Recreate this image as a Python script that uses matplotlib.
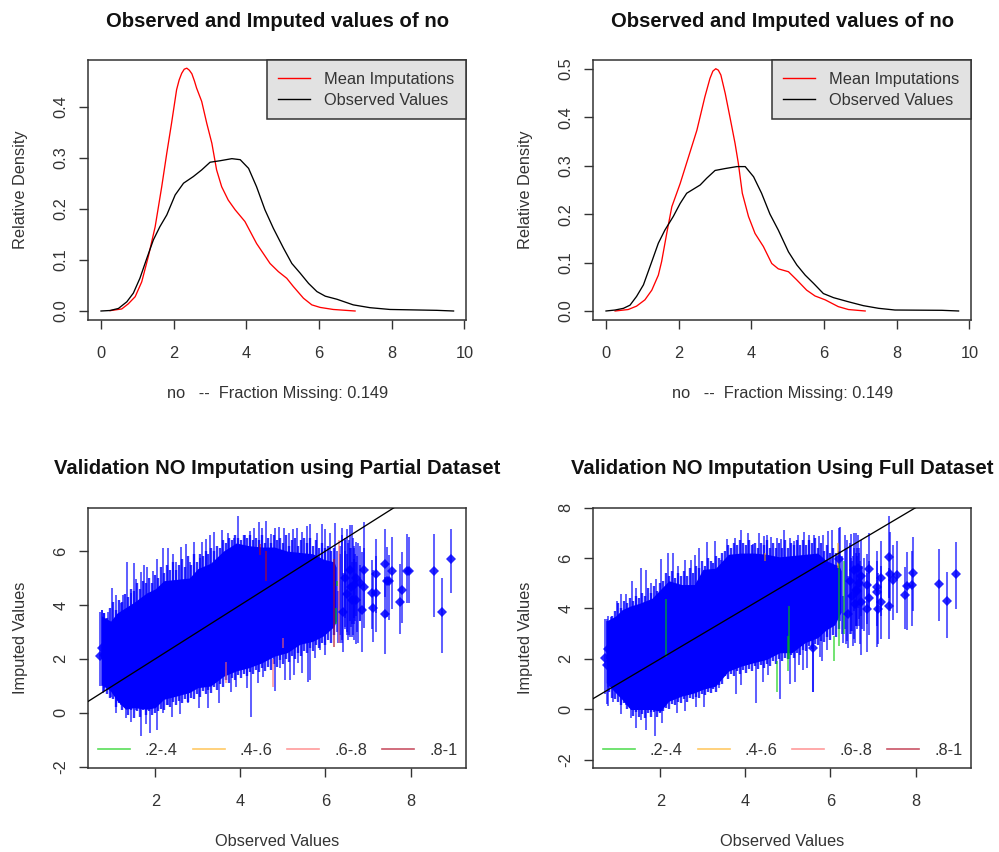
import matplotlib
matplotlib.use("Agg")
import matplotlib.pyplot as plt
from matplotlib.lines import Line2D

plt.rcParams['font.family'] = ['Liberation Sans', 'DejaVu Sans']
plt.rcParams['axes.unicode_minus'] = False

# ---------- density panels ----------
tl_red_x = [.25,.57,.75,.94,1.12,1.30,1.49,1.67,1.81,1.94,2.08,2.15,2.22,2.29,2.36,2.43,2.50,2.57,2.63,2.77,2.91,3.05,3.18,3.32,3.50,3.69,3.96,4.28,4.65,4.88,5.11,5.29,5.57,5.80,6.03,6.39,6.99]
tl_red_y = [.0007,.004,.014,.028,.057,.106,.165,.243,.309,.367,.433,.452,.465,.473,.475,.471,.464,.45,.436,.41,.367,.328,.276,.243,.217,.198,.175,.132,.093,.077,.064,.048,.025,.012,.007,.003,0]
tl_blk_x = [0,.25,.48,.71,.89,1.07,1.26,1.44,1.62,1.81,2.04,2.27,2.54,2.77,3.0,3.28,3.6,3.83,4.06,4.28,4.51,4.74,5.02,5.25,5.48,5.71,5.94,6.17,6.49,6.94,7.40,7.95,9.24,9.70]
tl_blk_y = [0,.001,.005,.018,.035,.064,.103,.139,.165,.188,.227,.25,.263,.276,.291,.294,.298,.296,.279,.243,.198,.162,.123,.093,.074,.054,.038,.029,.023,.012,.0065,.003,.0013,0]
tr_red_x = [.25,.61,.84,1.07,1.26,1.44,1.53,1.67,1.81,2.04,2.27,2.50,2.72,2.86,2.94,3.02,3.09,3.16,3.28,3.41,3.55,3.64,3.75,3.92,4.10,4.33,4.56,4.74,5.02,5.25,5.52,5.75,6.03,6.39,6.67,7.13]
tr_red_y = [0,.003,.010,.023,.043,.074,.102,.16,.215,.263,.318,.373,.442,.48,.495,.50,.497,.487,.449,.40,.346,.305,.243,.195,.16,.133,.098,.087,.081,.064,.043,.031,.023,.009,.003,0]
tr_blk_x = [0,.25,.48,.66,.84,1.03,1.26,1.44,1.62,1.85,2.04,2.22,2.59,2.77,3.0,3.28,3.6,3.83,4.06,4.28,4.51,4.74,5.02,5.25,5.48,5.71,5.98,6.26,6.67,7.08,7.5,7.95,9.24,9.70]
tr_blk_y = [0,.002,.0055,.012,.03,.054,.102,.14,.167,.195,.222,.243,.26,.274,.29,.294,.298,.298,.277,.243,.2,.167,.122,.095,.074,.057,.036,.0275,.019,.011,.0055,.002,.0014,0]

# ---------- shared positions of the dense fringe of intervals ----------
fr_x = [.80,.87,.94,1.01,1.08,1.15,1.22,1.29,1.36,1.43,
        1.50,1.57,1.64,1.71,1.78,1.85,1.92,1.99,2.06,2.13,
        2.20,2.27,2.34,2.41,2.48,2.55,2.62,2.69,2.76,2.83,
        2.90,2.97,3.04,3.11,3.18,3.25,3.32,3.39,3.46,3.53,
        3.60,3.67,3.74,3.81,3.88,3.95,4.02,4.09,4.16,4.23,
        4.30,4.37,4.44,4.51,4.58,4.65,4.72,4.79,4.86,4.93,
        5.00,5.07,5.14,5.21,5.28,5.35,5.42,5.49,5.56,5.63,
        5.70,5.77,5.84,5.91,5.98,6.05,6.12,6.19]

# ---------- partial dataset panel ----------
p_core_x  = [.73,.95,1.1,1.3,1.5,1.8,2.0,2.2,2.5,2.8,3.0,3.3,3.6,3.9,4.2,4.5,4.8,5.1,5.4,5.7,5.95,6.2,6.25]
p_core_hi = [3.6,3.4,3.7,3.9,4.1,4.45,4.6,4.9,4.95,5.0,5.35,5.55,6.0,6.3,6.2,6.15,6.15,6.0,5.95,5.9,5.7,5.6,5.4]
p_core_lo = [1.05,.8,.45,.13,.19,.13,.19,.5,.62,.75,.93,.99,1.35,1.55,1.67,1.85,2.1,2.23,2.54,2.65,2.85,3.2,3.4]
p_fr_hi = [3.7,3.5,3.9,4.1,3.8,4.2,4.1,4.4,4.3,4.6,
           4.5,4.8,4.6,4.9,4.8,5.0,4.8,5.1,5.0,5.4,
           5.2,5.5,5.3,5.6,5.3,5.5,5.7,5.4,5.8,5.5,
           5.9,5.6,5.9,5.8,6.0,5.9,6.1,6.0,6.2,6.1,
           6.4,6.3,6.5,6.4,6.6,6.5,6.4,6.6,6.5,6.6,
           6.4,6.5,6.4,6.6,6.3,6.5,6.3,6.6,6.4,6.5,
           6.3,6.6,6.2,6.4,6.5,6.2,6.4,6.5,6.3,6.5,
           6.2,6.4,6.1,6.3,6.1,6.2,6.0,6.1]
p_fr_lo = [.8,.7,.55,.5,.2,.35,.1,.2,-.1,.1,
           -.2,.05,-.15,.1,-.1,.05,-.1,.0,.05,.15,
           .1,.3,.2,.4,.3,.45,.35,.5,.4,.55,
           .5,.7,.6,.8,.7,.85,.75,.95,.85,1.05,
           .95,1.2,1.1,1.3,1.2,1.4,1.3,1.45,1.35,1.5,
           1.45,1.6,1.5,1.65,1.55,1.7,1.6,1.8,1.7,1.95,
           1.8,2.0,1.9,2.1,2.0,2.2,2.1,2.3,2.2,2.4,
           2.3,2.5,2.4,2.6,2.5,2.7,2.6,2.9]
p_top_x  = [.756,.889,.983,1.077,1.186,1.249,1.343,1.437,1.50,1.554,1.672,1.735,1.813,1.938,2.04,2.18,2.30,2.42,2.49,2.60,2.72,2.81,2.91,3.04,3.10,3.18,3.28,3.38,3.57,3.72,3.85,3.94,4.10,4.22,4.33,4.43,4.51,4.61,4.73,4.82,4.91,5.03,5.15,5.23,5.34,5.44,5.56,5.63,5.79,5.91,5.99,6.10,6.22]
p_top_hi = [3.81,3.75,4.64,4.37,4.06,4.37,5.58,4.43,5.54,4.96,5.21,5.48,5.42,5.26,5.69,6.10,6.12,5.88,5.61,6.16,6.25,5.61,6.32,5.73,6.35,6.45,6.60,6.72,6.78,6.68,6.50,7.30,6.60,6.74,6.87,7.07,6.84,7.12,6.62,6.87,6.91,6.87,6.66,6.82,6.84,6.72,6.94,6.99,6.66,6.99,6.82,6.66,7.05]
p_top_lo = [2.0,2.0,2.0,2.0,2.0,2.0,2.5,2.0,2.5,2.0,2.5,2.5,2.5,2.5,2.5,3.0,3.0,3.0,3.0,3.0,3.0,3.0,3.0,3.0,3.0,3.0,3.5,3.5,3.5,3.5,3.5,3.5,3.5,3.5,3.5,3.5,3.5,3.5,3.5,3.5,3.5,3.5,3.5,3.5,3.5,3.5,3.5,3.5,3.5,3.5,3.5,3.5,3.5]
p_bot_x  = [.77,.97,1.08,1.20,1.32,1.42,1.54,1.67,1.77,1.88,2.04,2.18,2.30,2.39,2.57,2.77,3.02,3.24,3.49,3.79,3.90,4.16,4.26,4.41,4.53,4.81,4.93,5.05,5.17,5.26,5.36,5.45,5.60,5.63,5.75,5.87,5.99,6.30]
p_bot_lo = [.72,.59,-.02,.28,-.21,-.33,.10,-.87,-.40,-.74,-.64,-.02,.28,-.15,-.06,.35,.19,.19,.35,.78,.97,.90,-.16,1.09,1.34,.82,1.65,1.21,1.21,1.40,1.83,1.48,1.15,1.21,2.05,2.33,2.14,2.57]
p_bot_hi = [2.5,2.5,2.5,2.5,2.5,2.5,2.5,2.5,2.5,2.5,2.5,3,3,3,3,3,3,3,3,3,3.5,3.5,3.5,3.5,3.5,3.5,4,4,4,4,4,4,4,4,4.5,4.5,4.5,4.5]
p_pt_x  = [.74,.79,.71,6.42,6.57,6.72,6.72,6.82,6.85,6.91,6.91,7.09,7.19,7.11,7.19,7.40,7.40,7.44,7.50,7.56,7.80,7.76,7.92,7.97,8.54,8.75,8.96,6.46,6.5,6.6,6.66,6.62]
p_pt_y  = [2.39,2.14,2.1,3.75,5.30,5.01,4.18,4.80,3.81,5.30,4.68,4.43,4.43,3.87,5.14,5.51,3.65,4.89,4.89,5.27,4.55,4.12,5.27,5.27,5.27,3.75,5.70,5.0,4.4,4.65,4.75,4.2]
p_pt_hi = [3.8,3.7,3.75,5.2,6.97,6.35,5.6,6.2,5.98,7.09,6.1,5.67,5.8,5.3,6.44,6.82,5.05,6.16,5.85,6.53,5.98,5.51,6.62,6.53,6.62,5.01,6.82,6.4,5.9,6.1,6.2,5.6]
p_pt_lo = [1.0,.9,1.0,2.24,2.8,3.6,2.54,3.4,2.24,3.81,3.13,3.1,3.01,2.61,3.69,4.31,2.17,3.56,3.44,3.84,3.32,2.91,4.08,4.08,3.54,2.20,4.43,3.5,2.9,3.2,3.3,2.8]
p_ext_x  = [6.33,6.38,6.45,6.5,6.55,6.62,6.66,6.7,6.76,6.28,6.35,6.4,6.47,6.53,6.58,6.64,6.68,6.74,6.8]
p_ext_hi = [6.2,6.87,6.5,6.82,6.4,6.97,6.1,5.9,6.3,6.0,5.9,6.6,6.0,6.3,6.1,6.5,5.7,5.8,5.5]
p_ext_lo = [2.6,2.7,3.1,3.0,2.9,3.3,2.7,3.4,2.6,3.0,2.9,2.6,3.2,2.7,3.4,2.9,3.5,3.0,3.4]

# ---------- full dataset panel ----------
f_core_x  = [.73,.95,1.1,1.3,1.5,1.8,2.0,2.2,2.5,2.8,3.0,3.3,3.6,3.9,4.2,4.5,4.8,5.1,5.4,5.7,5.9,6.1,6.2,6.25]
f_core_hi = [3.5,3.7,3.95,4.1,4.2,4.4,4.75,5.1,4.95,4.95,5.55,5.6,6.15,6.2,6.2,6.15,6.05,6.1,6.15,6.2,5.9,5.75,5.7,5.5]
f_core_lo = [1.05,.65,.39,-.01,-.01,-.01,-.08,.32,.52,.65,.79,.92,1.51,1.71,1.85,1.98,2.24,2.25,2.64,2.84,3.15,3.35,3.7,3.85]
f_fr_hi = [3.5,3.7,3.9,4.2,4.0,4.3,4.2,4.4,4.3,4.5,
           4.4,4.6,4.5,4.8,4.6,4.9,4.7,5.0,5.1,5.4,
           5.3,5.5,5.2,5.4,5.3,5.5,5.3,5.6,5.4,5.7,
           5.6,5.9,5.7,6.0,5.9,5.8,6.1,6.0,6.2,6.3,
           6.5,6.4,6.6,6.5,6.7,6.6,6.5,6.7,6.5,6.6,
           6.4,6.6,6.5,6.7,6.4,6.6,6.4,6.6,6.4,6.7,
           6.4,6.6,6.5,6.7,6.5,6.7,6.5,6.7,6.6,6.8,
           6.4,6.6,6.3,6.5,6.2,6.4,6.2,6.3]
f_fr_lo = [.7,.45,.4,.3,.15,.25,.0,.05,-.25,-.1,
           -.3,-.2,-.35,-.15,-.3,-.1,-.3,-.15,-.05,.05,
           .0,.2,.15,.3,.25,.4,.3,.45,.4,.5,
           .45,.6,.55,.7,.65,.8,.7,.95,1.0,1.3,
           1.2,1.4,1.3,1.5,1.4,1.55,1.45,1.6,1.5,1.7,
           1.6,1.75,1.65,1.8,1.7,1.9,1.8,2.0,1.9,2.05,
           2.0,2.15,2.05,2.25,2.15,2.35,2.3,2.5,2.4,2.6,
           2.55,2.7,2.65,2.85,2.75,2.95,2.85,3.2]
f_top_x  = [.756,.83,.983,1.077,1.20,1.343,1.42,1.55,1.66,1.79,1.89,2.02,2.17,2.30,2.42,2.57,2.71,2.81,2.91,3.10,3.28,3.43,3.57,3.75,3.89,4.06,4.18,4.31,4.43,4.51,4.61,4.75,4.84,4.91,5.05,5.15,5.24,5.38,5.50,5.62,5.74,5.83,5.93,6.04,6.22,6.34,6.48,6.60]
f_top_hi = [3.59,3.68,4.28,4.57,4.57,5.10,4.81,5.60,5.54,5.03,5.18,5.96,6.20,6.20,5.67,5.93,5.93,6.11,6.42,6.62,6.66,5.93,6.77,6.79,7.13,6.99,6.56,6.99,6.86,6.90,6.83,6.79,6.77,7.13,6.79,6.69,6.90,7.03,6.93,6.90,6.86,6.93,7.06,7.13,7.22,6.93,6.95,6.99]
f_top_lo = [2.0,2.0,2.0,2.0,2.0,2.5,2.0,2.5,2.5,2.5,2.5,2.5,3.0,3.0,3.0,3.0,3.0,3.0,3.0,3.0,3.5,3.5,3.5,3.5,3.5,3.5,3.5,3.5,3.5,3.5,3.5,3.5,3.5,3.5,3.5,3.5,3.5,3.5,3.5,3.5,3.5,3.5,3.5,3.5,3.5,3.2,3.0,3.3]
f_bot_x  = [.77,.89,1.08,1.2,1.32,1.44,1.54,1.67,1.77,1.88,2.04,2.39,2.57,2.83,3.02,3.38,3.47,3.77,3.90,4.26,4.41,4.53,4.81,4.93,5.05,5.17,5.26,5.35,5.44,5.60,5.75,5.79,5.92,6.30]
f_bot_lo = [.13,.30,-.2,.17,-.33,-.73,-.43,-.82,-.09,-1.06,-.56,-.16,-.07,.07,.10,.83,1.7,.6,.97,.23,1.1,1.36,.4,2.29,.99,1.10,1.76,1.54,1.63,.70,2.09,1.92,2.36,2.62]
f_bot_hi = [2.5,2.5,2.5,2.5,2.5,2.5,2.5,2.5,2.5,2.5,2.5,3,3,3,3,3,3,3.5,3.5,3.5,3.5,3.5,3.5,4,4,4,4,4,4,4,4.5,4.5,4.5,4.5]
f_pt_x  = [.70,.74,.78,5.58,6.21,6.42,6.56,6.65,6.72,6.72,6.85,6.85,6.57,6.91,6.91,7.09,7.09,7.19,7.19,7.11,7.38,7.41,7.38,7.48,7.56,7.80,7.76,7.92,7.95,8.54,8.75,8.96,6.46,6.5,6.6,6.66,6.62]
f_pt_y  = [2.05,1.76,2.38,2.45,5.97,3.77,5.54,5.60,5.27,4.25,4.94,3.99,4.18,5.57,4.41,4.87,4.67,5.20,4.25,3.98,6.03,5.36,4.08,5.14,5.31,4.91,4.54,4.94,5.40,4.99,4.28,5.36,5.1,4.5,4.75,5.0,4.7]
f_pt_hi = [3.6,3.5,3.7,4.2,7.2,5.3,6.99,6.9,6.7,5.7,6.16,5.4,5.6,7.0,5.9,6.3,5.87,6.66,5.7,5.4,7.68,7.02,5.6,6.5,6.66,6.26,5.63,6.3,6.82,6.36,5.44,6.62,6.5,5.9,6.2,6.4,6.1]
f_pt_lo = [.6,.2,.9,.7,4.3,2.42,3.9,4.0,3.7,2.16,3.4,2.29,2.62,4.0,2.95,3.3,2.49,3.7,2.78,2.6,4.4,3.9,2.78,3.55,3.82,3.13,3.2,3.29,3.9,3.52,2.82,3.97,3.7,3.1,3.3,3.6,3.3]
f_ext_x  = [6.36,6.45,6.52,6.62,6.7,6.78,6.28,6.4,6.48,6.56,6.66,6.74]
f_ext_hi = [6.4,6.6,6.1,6.4,5.9,6.0,6.1,6.7,6.0,6.4,6.2,5.7]
f_ext_lo = [2.6,3.0,2.5,3.2,2.6,3.1,3.0,2.7,3.1,2.8,3.3,3.2]

# coloured low-confidence bars: x, lo, hi
p_col_x  = [3.67,4.76,5.0,4.45,4.6,6.2,6.31,6.24,6.27]
p_col_lo = [1.12,.96,2.39,5.87,4.9,2.43,2.57,3.3,4.7]
p_col_hi = [1.9,2.0,2.76,6.27,6.0,5.7,6.41,3.9,4.9]
p_col_c  = ['salmon','salmon','salmon','red','red','red','salmon','green','green']
f_col_x  = [2.13,4.75,5.0,6.08,6.2,6.32,4.47,6.17,5.02]
f_col_lo = [2.09,.7,1.5,1.9,2.52,3.0,5.9,5.6,2.0]
f_col_hi = [4.37,1.9,2.9,2.9,5.9,5.9,6.2,6.6,4.1]
f_col_c  = ['green','green','green','green','green','green','orange','orange','green']

titles_top = "Observed and Imputed values of no"
xlab_top = "no   --  Fraction Missing: 0.149"
legend_top = ["Mean Imputations", "Observed Values"]
legend_bins = [".2-.4", ".4-.6", ".6-.8", ".8-1"]

BLUE = (0, 0, 1, .62)
COLS = {'green': (0, .8, 0, .65), 'orange': (1, .65, 0, .6), 'salmon': (1, .4, .4, .65), 'red': (.7, .05, .15, .7)}
INK = '#333333'
FS = 11.8
TFS = 14.6
W, H = 999, 852


def make_ax(l, t, r, b):
    ax = fig.add_axes([l / W, 1 - b / H, (r - l) / W, (b - t) / H])
    for s in ax.spines.values():
        s.set_linewidth(1.1)
        s.set_color(INK)
    ax.tick_params(length=6.6, width=1, color=INK, labelcolor=INK, labelsize=FS)
    ax.tick_params(axis='x', pad=12)
    ax.tick_params(axis='y', pad=7.5)
    return ax


def style_y(ax):
    for lab in ax.get_yticklabels():
        lab.set_rotation(90)
        lab.set_va('center')


def density(l, ylim, yticks, rx, ry, bx, by):
    ax = make_ax(l, 60, l + 378.3, 320)
    ax.plot(rx, ry, color='red', lw=.95)
    ax.plot(bx, by, color='black', lw=.95)
    ax.set_xlim(-.358, 10.05)
    ax.set_ylim(*ylim)
    ax.set_xticks([0, 2, 4, 6, 8, 10])
    ax.set_yticks(yticks)
    ax.set_yticklabels([f"{v:.1f}" for v in yticks])
    style_y(ax)
    ax.set_title(titles_top, fontsize=TFS, fontweight='bold', pad=24, color='#111111')
    ax.set_xlabel(xlab_top, fontsize=FS, color=INK, labelpad=18)
    ax.set_ylabel("Relative Density", fontsize=FS, color=INK, labelpad=18.5)
    handles = [Line2D([], [], color='red', lw=1.0), Line2D([], [], color='black', lw=1.0)]
    leg = ax.legend(handles, legend_top, loc='upper right', bbox_to_anchor=(1, 1), borderaxespad=0,
                    fontsize=FS, fancybox=False, framealpha=1, facecolor='#e2e2e2', edgecolor=INK,
                    handlelength=1.95, handletextpad=.85, labelspacing=.36, borderpad=.72)
    leg.get_frame().set_linewidth(1.1)
    for t in leg.get_texts():
        t.set_color(INK)
    return ax


def overimpute(l, title, ylim, yticks, cx, chi, clo, fhi, flo, tx, thi, tlo, bx, blo, bhi, px, py, phi, plo, ex, ehi, elo, kx, klo, khi, kc):
    ax = make_ax(l, 507.7, l + 378.3, 767.7)
    ax.fill_between(cx, clo, chi, color='blue', lw=0, zorder=1)
    lw = 1.45
    ax.vlines(fr_x, flo, fhi, color=(0, 0, 1, .8), lw=1.7, zorder=2)
    ax.vlines(tx, tlo, thi, color=BLUE, lw=lw, zorder=2)
    ax.vlines(bx, blo, bhi, color=BLUE, lw=lw, zorder=2)
    ax.vlines(ex, elo, ehi, color=BLUE, lw=lw, zorder=2)
    ax.vlines(px, plo, phi, color=BLUE, lw=lw, zorder=2)
    ax.vlines(kx, klo, khi, color=[COLS[c] for c in kc], lw=1.2, zorder=3)
    ax.plot(px, py, ls='', marker='D', ms=5.2, color=(0, 0, 1, .85), mew=0, zorder=4)
    ax.axline((0, 0), slope=1, color='black', lw=.95, zorder=5)
    ax.set_xlim(.418, 9.31)
    ax.set_ylim(*ylim)
    ax.set_xticks([2, 4, 6, 8])
    ax.set_yticks(yticks)
    style_y(ax)
    ax.set_title(title, fontsize=TFS, fontweight='bold', pad=24, color='#111111')
    ax.set_xlabel("Observed Values", fontsize=FS, color=INK, labelpad=18)
    ax.set_ylabel("Imputed Values", fontsize=FS, color=INK, labelpad=18.5)
    handles = [Line2D([], [], color=COLS[k], lw=1.2) for k in ['green', 'orange', 'salmon', 'red']]
    leg = ax.legend(handles, legend_bins, loc='lower left', bbox_to_anchor=(.026, .037), borderaxespad=0, ncol=4,
                    frameon=False, fontsize=FS, handlelength=1.95, handletextpad=.9, columnspacing=.93, borderpad=0)
    for t in leg.get_texts():
        t.set_color(INK)
    return ax


fig = plt.figure(figsize=(W / 100, H / 100), dpi=100)
density(88, (-.0176, .491), [0, .1, .2, .3, .4], tl_red_x, tl_red_y, tl_blk_x, tl_blk_y)
density(593, (-.0186, .518), [0, .1, .2, .3, .4, .5], tr_red_x, tr_red_y, tr_blk_x, tr_blk_y)
overimpute(88, "Validation NO Imputation using Partial Dataset", (-2.04, 7.61), [-2, 0, 2, 4, 6],
           p_core_x, p_core_hi, p_core_lo, p_fr_hi, p_fr_lo, p_top_x, p_top_hi, p_top_lo, p_bot_x, p_bot_lo, p_bot_hi,
           p_pt_x, p_pt_y, p_pt_hi, p_pt_lo, p_ext_x, p_ext_hi, p_ext_lo, p_col_x, p_col_lo, p_col_hi, p_col_c)
overimpute(593, "Validation NO Imputation Using Full Dataset", (-2.32, 8.0), [-2, 0, 2, 4, 6, 8],
           f_core_x, f_core_hi, f_core_lo, f_fr_hi, f_fr_lo, f_top_x, f_top_hi, f_top_lo, f_bot_x, f_bot_lo, f_bot_hi,
           f_pt_x, f_pt_y, f_pt_hi, f_pt_lo, f_ext_x, f_ext_hi, f_ext_lo, f_col_x, f_col_lo, f_col_hi, f_col_c)
fig.savefig("out.png", dpi=100)
